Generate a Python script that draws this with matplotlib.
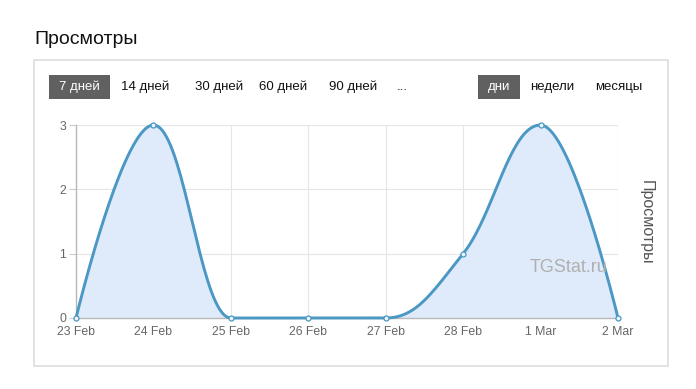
import numpy as np, matplotlib
matplotlib.use('Agg')
import matplotlib.pyplot as plt
from matplotlib.patches import Rectangle

plt.rcParams['font.family'] = ['Liberation Sans', 'DejaVu Sans']

dates = ['23 Feb', '24 Feb', '25 Feb', '26 Feb', '27 Feb', '28 Feb', '1 Mar', '2 Mar']
views = [0, 3, 0, 0, 0, 1, 3, 0]
yticks = [0, 1, 2, 3]
periods = ['7 дней', '14 дней', '30 дней', '60 дней', '90 дней', '...']
scales = ['дни', 'недели', 'месяцы']

LINE = '#4b98c4'; FILL = '#dfeafa'; GRID = '#e6e6e6'; TXT = '#666666'

def spline(xs, ys, sm=1.5):
    # highcharts-style spline control points
    n = len(xs); L = [None]*n; R = [None]*n
    for i in range(n):
        x, y = xs[i], ys[i]
        if 0 < i < n-1:
            lx = (sm*x + xs[i-1])/(sm+1); ly = (sm*y + ys[i-1])/(sm+1)
            rx = (sm*x + xs[i+1])/(sm+1); ry = (sm*y + ys[i+1])/(sm+1)
            corr = (ry-ly)*(rx-x)/(rx-lx) + y - ry
            ly += corr; ry += corr
            py, ny = ys[i-1], ys[i+1]
            if ly > py and ly > y: ly = max(py, y); ry = 2*y - ly
            elif ly < py and ly < y: ly = min(py, y); ry = 2*y - ly
            if ry > ny and ry > y: ry = max(ny, y); ly = 2*y - ry
            elif ry < ny and ry < y: ry = min(ny, y); ly = 2*y - ry
            L[i] = (lx, ly); R[i] = (rx, ry)
        else:
            L[i] = (x, y); R[i] = (x, y)
    px, py = [xs[0]], [ys[0]]
    t = np.linspace(0, 1, 40)[1:]
    for i in range(1, n):
        p0 = np.array([xs[i-1], ys[i-1]]); p1 = np.array(R[i-1]); p2 = np.array(L[i]); p3 = np.array([xs[i], ys[i]])
        pts = ((1-t)**3)[:, None]*p0 + (3*(1-t)**2*t)[:, None]*p1 + (3*(1-t)*t**2)[:, None]*p2 + (t**3)[:, None]*p3
        px += list(pts[:, 0]); py += list(pts[:, 1])
    return np.array(px), np.array(py)

W, H = 696, 389
fig = plt.figure(figsize=(W/100, H/100), dpi=100)
fig.patch.set_facecolor('white')

def fx(x): return x/W
def fy(y): return 1 - y/H

# panel
fig.add_artist(Rectangle((fx(34), fy(366)), fx(668)-fx(34), fy(60)-fy(366), transform=fig.transFigure,
                         facecolor='none', edgecolor='#dddddd', lw=1.2, zorder=-5))
fig.text(fx(34), fy(39), 'Просмотры', fontsize=14, color='#111111', va='center', ha='left')

# buttons
fig.add_artist(Rectangle((fx(49), fy(99)), fx(110)-fx(49), fy(75)-fy(99), transform=fig.transFigure,
                         facecolor='#606060', edgecolor='none', zorder=-4))
fig.add_artist(Rectangle((fx(478), fy(99)), fx(520)-fx(478), fy(75)-fy(99), transform=fig.transFigure,
                         facecolor='#606060', edgecolor='none', zorder=-4))
pcx = [79.5, 145, 219, 283, 353, 402]
for i, (lab, cx) in enumerate(zip(periods, pcx)):
    fig.text(fx(cx), fy(87), lab, fontsize=9.5, ha='center', va='center', color='white' if i == 0 else '#111111')
scx = [499, 552, 619]
for i, (lab, cx) in enumerate(zip(scales, scx)):
    fig.text(fx(cx), fy(87), lab, fontsize=9.5, ha='center', va='center', color='white' if i == 0 else '#111111')

ax = fig.add_axes([fx(76), fy(318), fx(618)-fx(76), fy(125)-fy(318)])
ax.set_facecolor('none')
x = np.arange(len(dates))
ax.set_xlim(0, len(dates)-1); ax.set_ylim(0, 3)
sx, sy = spline(list(x.astype(float)), [float(v) for v in views])
ax.fill_between(sx, 0, sy, color=FILL, lw=0, zorder=1)
ax.plot(sx, sy, color=LINE, lw=2.1, zorder=4, clip_on=False, solid_capstyle='round')
ax.plot(x, views, 'o', ms=3.6, mfc='#eef4fb', mec=LINE, mew=0.9, zorder=5, clip_on=False)

ax.set_xticks(x); ax.set_xticklabels(dates)
ax.set_yticks(yticks)
ax.grid(True, color=GRID, lw=0.8, zorder=0)
ax.set_axisbelow(True)
for s in ['top', 'right']:
    ax.spines[s].set_visible(False)
for s in ['left', 'bottom']:
    ax.spines[s].set_color('#b8b8b8'); ax.spines[s].set_linewidth(1.0)
ax.tick_params(axis='x', length=0, pad=6, labelsize=8.8, labelcolor=TXT)
ax.tick_params(axis='y', length=5, width=0.8, color='#cccccc', pad=2, labelsize=8.8, labelcolor=TXT)
ax.axvline(len(dates)-1, color=GRID, lw=0.8, zorder=0)
ax.axhline(3, color=GRID, lw=0.8, zorder=0)

fig.text(fx(646), fy(222), 'Просмотры', rotation=-90, fontsize=11.5, color='#555555', ha='center', va='center')
fig.text(fx(569), fy(267), 'TGStat.ru', fontsize=13, color='#b0b0b0', ha='center', va='center', zorder=10)

fig.savefig('out.png', dpi=100, facecolor='white')
